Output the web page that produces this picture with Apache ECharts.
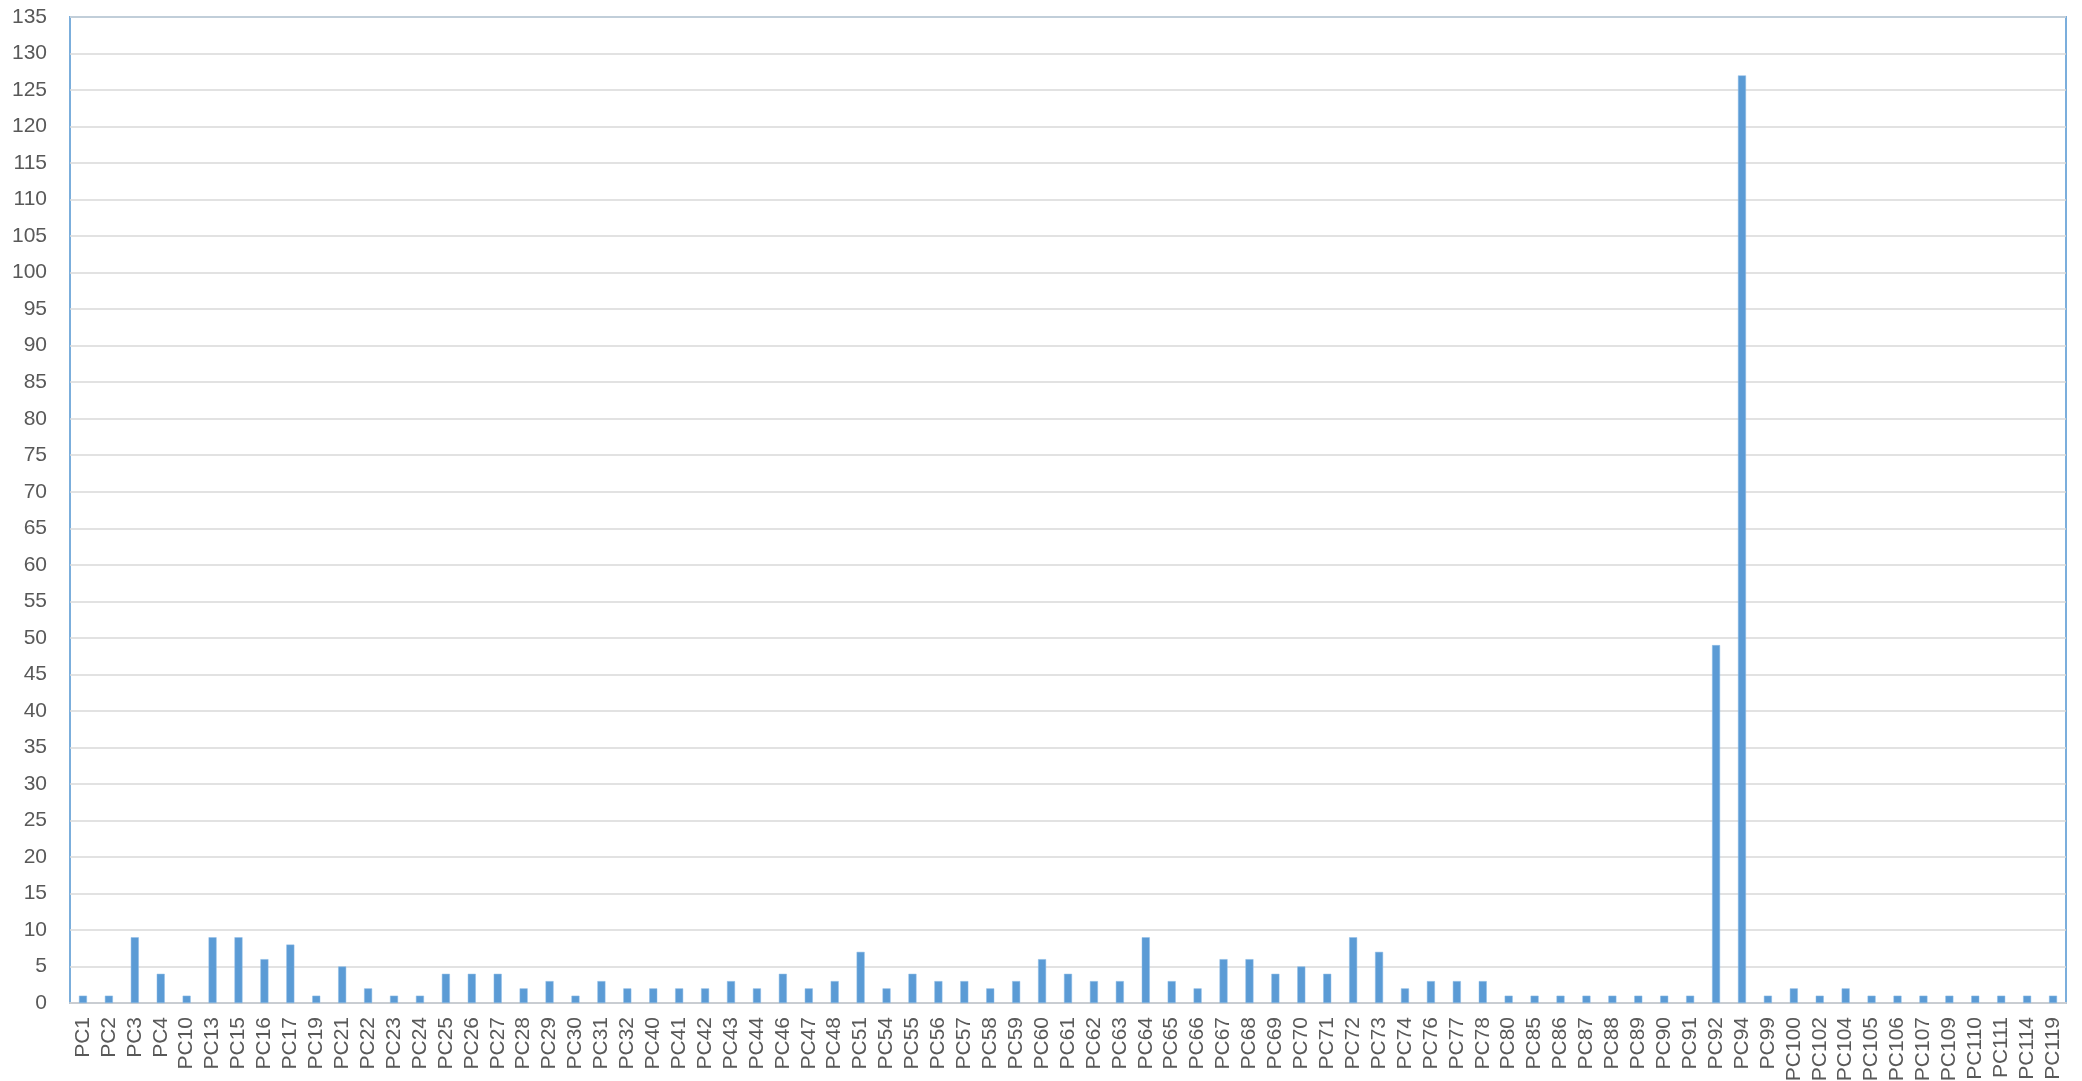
<!DOCTYPE html>
<html>
<head>
<meta charset="utf-8">
<script src="https://cdn.jsdelivr.net/npm/echarts@6/dist/echarts.min.js"></script>
<style>
html,body{margin:0;padding:0;background:#fff;}
#c{width:2082px;height:1081px;}
</style>
</head>
<body>
<div id="c"></div>
<script>
const categories = ['PC1','PC2','PC3','PC4','PC10','PC13','PC15','PC16','PC17','PC19',
  'PC21','PC22','PC23','PC24','PC25','PC26','PC27','PC28','PC29','PC30',
  'PC31','PC32','PC40','PC41','PC42','PC43','PC44','PC46','PC47','PC48',
  'PC51','PC54','PC55','PC56','PC57','PC58','PC59','PC60','PC61','PC62',
  'PC63','PC64','PC65','PC66','PC67','PC68','PC69','PC70','PC71','PC72',
  'PC73','PC74','PC76','PC77','PC78','PC80','PC85','PC86','PC87','PC88',
  'PC89','PC90','PC91','PC92','PC94','PC99','PC100','PC102','PC104','PC105',
  'PC106','PC107','PC109','PC110','PC111','PC114','PC119'];
const values = [1,1,9,4,1,9,9,6,8,1,
  5,2,1,1,4,4,4,2,3,1,
  3,2,2,2,2,3,2,4,2,3,
  7,2,4,3,3,2,3,6,4,3,
  3,9,3,2,6,6,4,5,4,9,
  7,2,3,3,3,1,1,1,1,1,
  1,1,1,49,127,1,2,1,2,1,
  1,1,1,1,1,1,1];
const yMin = 0, yMax = 135, yStep = 5;

const chart = echarts.init(document.getElementById('c'), null, {renderer:'canvas'});
chart.setOption({
  animation: false,
  backgroundColor: '#ffffff',
  grid: {left: 70, top: 17, right: 16, bottom: 78, show: true, borderColor: '#7BAEDC', borderWidth: 2, containLabel: false, outerBoundsMode: 'none'},
  xAxis: {
    type: 'category',
    data: categories,
    axisLine: {show: true, lineStyle: {color: '#C9CDD2', width: 2}},
    axisTick: {show: false},
    axisLabel: {rotate: 90, interval: 0, margin: 14, color: '#595959', fontSize: 21, fontFamily: 'Liberation Sans'}
  },
  yAxis: {
    type: 'value',
    min: yMin, max: yMax, interval: yStep,
    axisLine: {show: false},
    axisTick: {show: false},
    splitLine: {lineStyle: {color: '#D9D9D9', width: 1.5}},
    axisLabel: {color: '#595959', fontSize: 21, fontFamily: 'Liberation Sans', margin: 23}
  },
  series: [{
    type: 'bar',
    data: values,
    barWidth: 8,
    itemStyle: {color: '#5B9BD5', borderColor: '#8FBCE6', borderWidth: 0.5}
  }]
});
</script>
</body>
</html>
